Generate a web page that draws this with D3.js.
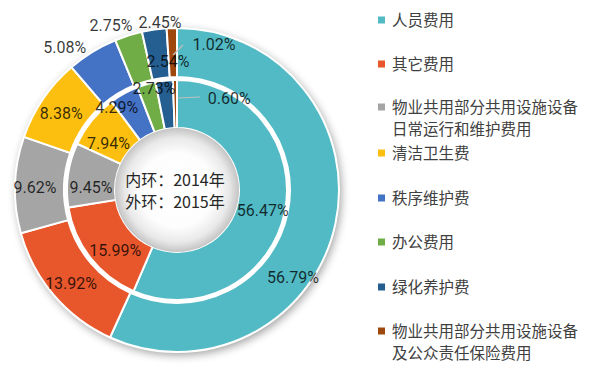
<!DOCTYPE html>
<html><head><meta charset="utf-8">
<script src="https://cdn.jsdelivr.net/npm/d3@7"></script>
<style>body{margin:0;background:#fff;}svg{display:block;}</style>
</head><body>
<svg id="chart" width="604" height="374"></svg>
<script>
// ---- data ----
const categories = ["人员费用","其它费用","物业共用部分共用设施设备日常运行和维护费用","清洁卫生费","秩序维护费","办公费用","绿化养护费","物业共用部分共用设施设备及公众责任保险费用"];
const legendLines = [["人员费用"],["其它费用"],["物业共用部分共用设施设备","日常运行和维护费用"],["清洁卫生费"],["秩序维护费"],["办公费用"],["绿化养护费"],["物业共用部分共用设施设备","及公众责任保险费用"]];
const values2014 = [56.47,15.99,9.45,7.94,4.29,2.73,2.54,0.60]; // inner ring
const values2015 = [56.79,13.92,9.62,8.38,5.08,2.75,2.45,1.02]; // outer ring
const centerLines = ["内环：2014年","外环：2015年"];

// ---- layout / style ----
const colors = ["#52BAC4","#E8562B","#A5A5A5","#FCBF10","#4472C4","#70AD47","#255E91","#9E480E"];
const cx = 177, cy = 190;
const rHole = 62, rInnerOut = 110, rOuterIn = 113, rOuterOut = 162;
// label placement: [angle deg clockwise from top, radius]
const outerLabelPos = [[126.9,145],[228.7,141],[271.2,142],[303.6,139],[321.9,182],[338.2,178],[354.2,169],[14.3,150]];
const innerLabelPos = [[103.1,88],[225.9,86],[272,86],[304.3,83],[323.8,102],[347.2,104],[356,129],[29.5,106]];

const svg = d3.select("#chart");
const defs = svg.append("defs");
const f = defs.append("filter").attr("id","shadow").attr("x","-20%").attr("y","-20%").attr("width","140%").attr("height","140%");
f.append("feGaussianBlur").attr("in","SourceAlpha").attr("stdDeviation",5);
f.append("feOffset").attr("dx",2).attr("dy",3).attr("result","b");
f.append("feComponentTransfer").append("feFuncA").attr("type","linear").attr("slope",0.4);
const fm = f.append("feMerge"); fm.append("feMergeNode"); fm.append("feMergeNode").attr("in","SourceGraphic");

const rg = defs.append("radialGradient").attr("id","hole");
[[0,"#ffffff"],[0.6,"#fdfdfd"],[0.84,"#e9e9e9"],[1,"#c4c4c4"]].forEach(s=>rg.append("stop").attr("offset",s[0]).attr("stop-color",s[1]));

const g = svg.append("g").attr("transform",`translate(${cx},${cy})`);
g.append("circle").attr("r",rOuterOut).attr("fill","#fff").attr("filter","url(#shadow)");

const pie = d3.pie().sort(null).value(d=>d);
const arcOuter = d3.arc().innerRadius(rOuterIn).outerRadius(rOuterOut);
const arcInner = d3.arc().innerRadius(rHole).outerRadius(rInnerOut);

g.selectAll("path.outer").data(pie(values2015)).join("path").attr("class","outer")
  .attr("d",arcOuter).attr("fill",(d,i)=>colors[i]).attr("stroke","#fff").attr("stroke-width",2);
g.selectAll("path.inner").data(pie(values2014)).join("path").attr("class","inner")
  .attr("d",arcInner).attr("fill",(d,i)=>colors[i]).attr("stroke","#fff").attr("stroke-width",2);

g.append("circle").attr("r",rHole).attr("fill","url(#hole)");

// leader lines
const pol = (a,r)=>[r*Math.sin(a*Math.PI/180), -r*Math.cos(a*Math.PI/180)];
const leaders = [[[-4,-135],[6,-145]],[[1,-92],[23,-93]]];
leaders.forEach(l=>g.append("line").attr("x1",l[0][0]).attr("y1",l[0][1]).attr("x2",l[1][0]).attr("y2",l[1][1]).attr("stroke","#bfbfbf").attr("stroke-width",1.2));

const fmt = v=>v.toFixed(2)+"%";
const lblFont = "Roboto, 'Liberation Sans', sans-serif";
function drawLabels(vals,pos){
  vals.forEach((v,i)=>{
    const p = pol(pos[i][0],pos[i][1]);
    g.append("text").attr("x",p[0]).attr("y",p[1]).attr("dy","0.36em").attr("text-anchor","middle")
     .attr("font-family",lblFont).attr("font-size",16).attr("fill","#000").attr("fill-opacity",0.78)
     .text(fmt(v));
  });
}
drawLabels(values2015,outerLabelPos);
drawLabels(values2014,innerLabelPos);

const ct = g.append("text").attr("text-anchor","middle")
   .attr("font-family","'Noto Sans CJK SC', sans-serif").attr("font-size",16).attr("fill","#262626");
centerLines.forEach((t,i)=>{
  ct.append("tspan").attr("x",-2).attr("y",-10+i*22).attr("dy","0.36em").text(t);
});

// legend
const legendY = [20,64,107,153,198,242,287,331];
const lg = svg.append("g");
legendLines.forEach((lines,i)=>{
  lg.append("rect").attr("x",378).attr("y",legendY[i]-3.5).attr("width",7).attr("height",7).attr("fill",colors[i]);
  const t = lg.append("text").attr("font-family","'Noto Sans CJK SC', sans-serif").attr("font-size",15.5).attr("fill","#404040");
  lines.forEach((s,j)=>{
    t.append("tspan").attr("x",392).attr("y",legendY[i]+j*22.5).attr("dy","0.36em").text(s);
  });
});
</script>
</body></html>
